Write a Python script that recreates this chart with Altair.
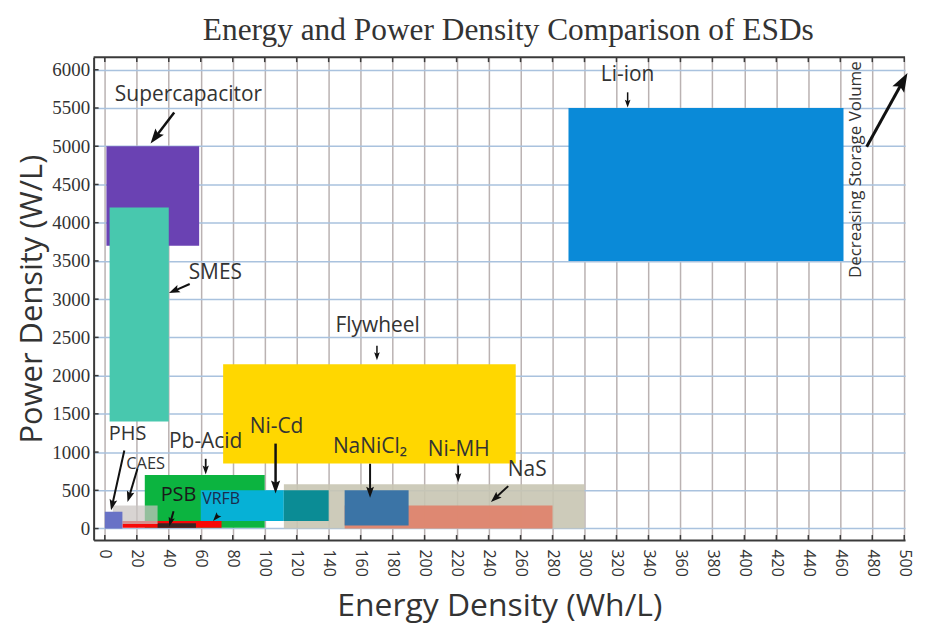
import math
import altair as alt
import pandas as pd

# ---------------- data ----------------
techs = ["Flywheel", "Supercapacitor", "SMES", "Li-ion", "Pb-Acid", "Ni-Cd", "NaS",
         "NaS/Ni-Cd overlap", "Ni-MH", "NaNiCl2", "VRFB", "PSB", "CAES", "PHS"]
energy_min = [74, 1, 3, 290, 25, 60, 112, 112, 150, 150, 11, 33, 5, 0]
energy_max = [257, 59, 40, 462, 100, 112, 300, 140, 280, 190, 73, 57, 33, 11]
power_min = [850, 3700, 1400, 3500, 10, 100, 0, 100, 0, 40, 10, 10, 60, 0]
power_max = [2150, 5000, 4200, 5500, 700, 500, 580, 500, 300, 500, 100, 70, 300, 220]
tech_colors = ["#ffd700", "#6a42b3", "#48c8ae", "#0a8ad8", "#0cb440", "#06b1d6", "#c8c5b3",
               "#0b8c95", "#e0826b", "#3b74a6", "#f80808", "#3a2424", "#c9c3c0", "#6872c6"]
tech_opacity = [1, 1, 1, 1, 1, 1, 0.9, 1, 0.92, 1, 1, 1, 0.72, 1]

label_text = ["Supercapacitor", "SMES", "Li-ion", "Flywheel", "Ni-Cd", "NaNiCl\u2082", "Ni-MH",
              "NaS", "PHS", "CAES", "Pb-Acid", "PSB", "VRFB"]
label_x = [52.3, 69.1, 327, 170.6, 107.4, 165.8, 221.4, 264.2, 14.2, 25.5, 63.1, 46.1, 72.8]
label_y = [5666, 3341, 5927, 2650, 1323, 1063, 1029, 760, 1237, 847, 1128, 434, 391]
label_size = [21, 21, 21, 21, 21, 21, 21, 21, 20, 16.5, 21, 20, 16]
label_color = ["#333333"] * 11 + ["#1a1a1a", "#1b2b4b"]

arrow_x1 = [43.4, 53.1, 327, 170.2, 106.8, 165.9, 221, 252.3, 12.2, 20.4, 63.1, 43.0, 70.8, 476.5]
arrow_y1 = [5440, 3198, 5705, 2390, 1111, 847, 825, 555, 1020, 782, 912, 225, 173, 4994]
arrow_x2 = [28.6, 40.1, 327, 170.2, 106.8, 165.9, 221, 241.5, 3.9, 14.2, 63.1, 40.3, 67.7, 502]
arrow_y2 = [5036, 3080, 5505, 2201, 460, 404, 607, 346, 238, 346, 707, 30, 99, 5958]
arrow_head = [15, 11, 8, 8, 13, 11, 9, 11, 11, 11, 9, 9, 9, 19]
arrow_width = [2.5, 2, 1.5, 1.5, 2.5, 2, 1.8, 2, 2, 2, 1.8, 2, 2, 3]

x_ticks = list(range(0, 501, 20))
y_ticks = list(range(0, 6001, 500))

# ---------------- layout ----------------
W, H = 815, 485
XD = [-7, 500.5]
YD = [-150, 6165]


def to_px(x, y):
    return ((x - XD[0]) / (XD[1] - XD[0]) * W,
            H - (y - YD[0]) / (YD[1] - YD[0]) * H)


def to_data(px, py):
    return (XD[0] + px / W * (XD[1] - XD[0]),
            YD[0] + (H - py) / H * (YD[1] - YD[0]))


rects = pd.DataFrame({"tech": techs, "e0": energy_min, "e1": energy_max,
                      "p0": power_min, "p1": power_max,
                      "col": tech_colors, "op": tech_opacity})
labels = pd.DataFrame({"t": label_text, "x": label_x, "y": label_y,
                       "s": label_size, "c": label_color})

HEAD_PATH = "M0,-1L-0.62,0.75L0,0.42L0.62,0.75Z"
rows = []
for x1, y1, x2, y2, L, w in zip(arrow_x1, arrow_y1, arrow_x2, arrow_y2, arrow_head, arrow_width):
    tx, ty = to_px(x1, y1)
    hx, hy = to_px(x2, y2)
    dx, dy = hx - tx, hy - ty
    n = math.hypot(dx, dy)
    dx, dy = dx / n, dy / n
    s = L / 1.75
    cx, cy = hx - dx * s, hy - dy * s
    cxd, cyd = to_data(cx, cy)
    ang = math.degrees(math.atan2(dx, -dy)) % 360
    rows.append({"x1": x1, "y1": y1, "cx": cxd, "cy": cyd, "ang": ang,
                 "sz": (2 * s) ** 2, "w": w})
arrows = pd.DataFrame(rows)

xs = alt.Scale(domain=XD, nice=False, zero=False)
ys = alt.Scale(domain=YD, nice=False, zero=False)

X_TITLE = "Energy Density (Wh/L)"
Y_TITLE = "Power Density (W/L)"
x_axis = alt.Axis(title=X_TITLE, values=x_ticks, format="d")
y_axis = alt.Axis(title=Y_TITLE, values=y_ticks, format="d")


def X(field):
    return alt.X(field, scale=xs, axis=x_axis)


def Y(field):
    return alt.Y(field, scale=ys, axis=y_axis)


rect_layer = alt.Chart(rects).mark_rect(strokeWidth=0).encode(
    x=X("e0:Q"), x2="e1:Q", y=Y("p0:Q"), y2="p1:Q",
    color=alt.Color("col:N", scale=None),
    opacity=alt.Opacity("op:Q", scale=None),
)

shaft_layer = alt.Chart(arrows).mark_rule(color="#111111", strokeCap="butt").encode(
    x=X("x1:Q"), y=Y("y1:Q"), x2="cx:Q", y2="cy:Q",
    strokeWidth=alt.StrokeWidth("w:Q", scale=None),
)

head_layer = alt.Chart(arrows).mark_point(shape=HEAD_PATH, filled=True, opacity=1,
                                          color="#111111", strokeWidth=0).encode(
    x=X("cx:Q"), y=Y("cy:Q"),
    angle=alt.Angle("ang:Q", scale=None),
    size=alt.Size("sz:Q", scale=None),
)

text_layer = alt.Chart(labels).mark_text(font="Open Sans", align="center",
                                         baseline="middle").encode(
    x=X("x:Q"), y=Y("y:Q"), text="t:N",
    size=alt.Size("s:Q", scale=None),
    color=alt.Color("c:N", scale=None),
)

side_note = pd.DataFrame({"t": ["Decreasing Storage Volume"], "x": [470], "y": [4693]})
side_layer = alt.Chart(side_note).mark_text(font="Open Sans", fontSize=17, angle=270,
                                            align="center", baseline="middle",
                                            color="#333333").encode(
    x=X("x:Q"), y=Y("y:Q"), text="t:N",
)

xt = pd.DataFrame({"v": x_ticks})
yt = pd.DataFrame({"v": y_ticks})
xtick_bottom = alt.Chart(xt).mark_rule(color="#3a3a3a", strokeWidth=1.5).encode(
    x=X("v:Q"), y=alt.value(H), y2=alt.value(H - 5))
xtick_top = alt.Chart(xt).mark_rule(color="#3a3a3a", strokeWidth=1.5).encode(
    x=X("v:Q"), y=alt.value(0), y2=alt.value(5))
ytick_left = alt.Chart(yt).mark_rule(color="#3a3a3a", strokeWidth=1.5).encode(
    y=Y("v:Q"), x=alt.value(0), x2=alt.value(5))
top_border = alt.Chart(side_note).mark_rule(color="#3a3a3a", strokeWidth=2).encode(
    x=alt.value(0), x2=alt.value(W), y=alt.value(0))

chart = alt.layer(
    rect_layer, xtick_bottom, xtick_top, ytick_left, top_border,
    shaft_layer, head_layer, text_layer, side_layer,
).properties(
    width=W, height=H,
    title=alt.TitleParams("Energy and Power Density Comparison of ESDs",
                          font="Liberation Serif", fontSize=31.5, fontWeight="normal",
                          color="#333333", anchor="middle", offset=10, dx=9),
    padding={"left": 9, "top": 5, "right": 4, "bottom": 4},
    background="white",
).configure_view(stroke=None).configure_axisX(
    labelAngle=90, labelFont="Open Sans", labelFontSize=16, labelColor="#333333",
    labelPadding=9, ticks=False, grid=True, gridColor="#bab2b2", gridWidth=1.5,
    domainColor="#3a3a3a", domainWidth=2, titleFont="Open Sans", titleFontSize=32,
    titleFontWeight="normal", titleColor="#333333", titlePadding=14, labelFlush=False,
).configure_axisY(
    labelFont="Liberation Serif", labelFontSize=19, labelColor="#333333",
    labelPadding=4, ticks=False, grid=True, gridColor="#a9c2de", gridWidth=1.5,
    domainColor="#3a3a3a", domainWidth=2, titleFont="Open Sans", titleFontSize=31,
    titleFontWeight="normal", titleColor="#333333", titlePadding=3,
)

chart.save("out.html", embed_options={"renderer": "svg", "actions": False})
